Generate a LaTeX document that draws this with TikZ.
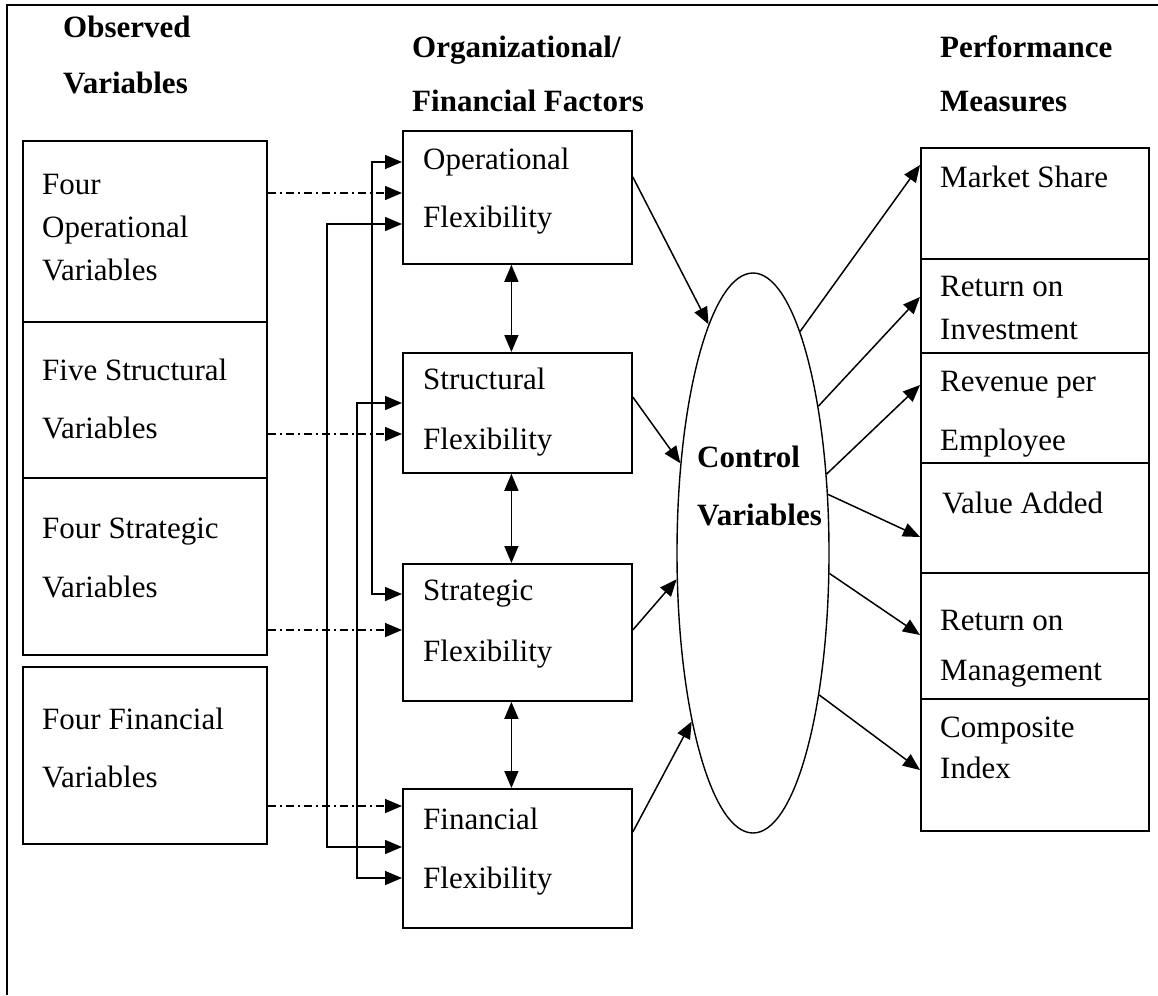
\documentclass[tikz,border=0pt]{standalone}
\usepackage{fontspec}
\setmainfont{Liberation Serif}
\usetikzlibrary{arrows.meta,shapes.geometric}
\tikzset{
  box/.style={draw, line width=1.8pt, inner sep=0pt, anchor=north west},
  lbl/.style={anchor=base west, inner sep=0pt, font=\fontsize{31}{31}\selectfont},
  hdr/.style={anchor=base west, inner sep=0pt, font=\fontsize{31}{31}\selectfont\bfseries},
  conn/.style={line width=1.5pt, -{Triangle[length=17pt,width=14pt]}},
  dbl/.style={line width=1.5pt, {Triangle[length=17pt,width=14pt]}-{Triangle[length=17pt,width=14pt]}},
  dd/.style={conn, dash pattern=on 8pt off 4pt on 2pt off 4pt},
}
\begin{document}
\begin{tikzpicture}[x=1pt,y=-1pt]
\useasboundingbox (0,0) rectangle (1158,995);
% frame
\draw[line width=1.8pt] (7,995) -- (7,5) -- (1158,5);

% headings
\node[hdr] (h1a) at (63,38) {Observed};
\node[hdr] (h1b) at (63,94) {Variables};
\node[hdr] (h2a) at (412,58) {Organizational/};
\node[hdr] (h2b) at (412,112) {Financial Factors};
\node[hdr] (h3a) at (940,58) {Performance};
\node[hdr] (h3b) at (940,112) {Measures};

% left boxes
\node[box, minimum width=244pt, minimum height=181pt] (ov) at (22,140) {};
\node[box, minimum width=244pt, minimum height=156pt] (sv) at (22,321) {};
\node[box, minimum width=244pt, minimum height=177pt] (gv) at (22,477) {};
\node[box, minimum width=244pt, minimum height=177pt] (fv) at (22,666) {};
\node[lbl] (ov1) at (42,194) {Four};
\node[lbl] (ov2) at (42,237) {Operational};
\node[lbl] (ov3) at (42,280) {Variables};
\node[lbl] (sv1) at (42,380) {Five Structural};
\node[lbl] (sv2) at (42,438) {Variables};
\node[lbl] (gv1) at (42,538) {Four Strategic};
\node[lbl] (gv2) at (42,597) {Variables};
\node[lbl] (fv1) at (42,729) {Four Financial};
\node[lbl] (fv2) at (42,787) {Variables};

% middle boxes
\node[box, minimum width=229pt, minimum height=133pt] (op) at (402,130) {};
\node[box, minimum width=229pt, minimum height=120pt] (st) at (402,352) {};
\node[box, minimum width=229pt, minimum height=137pt] (sg) at (402,563) {};
\node[box, minimum width=229pt, minimum height=139pt] (fi) at (402,788) {};
\node[lbl] (op1) at (423,170) {Operational};
\node[lbl] (op2) at (423,227) {Flexibility};
\node[lbl] (st1) at (423,389) {Structural};
\node[lbl] (st2) at (423,449) {Flexibility};
\node[lbl] (sg1) at (423,600) {Strategic};
\node[lbl] (sg2) at (423,661) {Flexibility};
\node[lbl] (fi1) at (423,829) {Financial};
\node[lbl] (fi2) at (423,888) {Flexibility};

% ellipse
\node[draw, ellipse, line width=1.4pt, inner sep=0pt, minimum width=152pt, minimum height=560pt] (cv) at (753,553) {};
\node[hdr] (cv1) at (697,467) {Control};
\node[hdr] (cv2) at (697,525) {Variables};

% right boxes
\node[box, minimum width=228pt, minimum height=111pt] (ms) at (920,147) {};
\node[box, minimum width=228pt, minimum height=94pt] (roi) at (920,258) {};
\node[box, minimum width=228pt, minimum height=110pt] (rpe) at (920,352) {};
\node[box, minimum width=228pt, minimum height=110pt] (va) at (920,462) {};
\node[box, minimum width=228pt, minimum height=126pt] (rom) at (920,572) {};
\node[box, minimum width=228pt, minimum height=132pt] (ci) at (920,698) {};
\node[lbl] (ms1) at (940,187) {Market Share};
\node[lbl] (roi1) at (940,296) {Return on};
\node[lbl] (roi2) at (940,339) {Investment};
\node[lbl] (rpe1) at (940,391) {Revenue per};
\node[lbl] (rpe2) at (940,450) {Employee};
\node[lbl] (va1) at (942,513) {Value Added};
\node[lbl] (rom1) at (940,630) {Return on};
\node[lbl] (rom2) at (940,680) {Management};
\node[lbl] (ci1) at (940,737) {Composite};
\node[lbl] (ci2) at (940,778) {Index};

% dash-dot connectors
\draw[dd] ([yshift=-53pt]ov.north east) -- ([yshift=-63pt]op.north west);
\draw[dd] ([yshift=-113pt]sv.north east) -- ([yshift=-82pt]st.north west);
\draw[dd] ([yshift=-153pt]gv.north east) -- ([yshift=-67pt]sg.north west);
\draw[dd] ([yshift=-140pt]fv.north east) -- ([yshift=-18pt]fi.north west);

% elbow connectors
\draw[dbl] ([yshift=-32pt]op.north west) -- ++(-30pt,0) |- ([yshift=-31pt]sg.north west);
\draw[dbl] ([yshift=-94pt]op.north west) -- ++(-75pt,0) |- ([yshift=-59pt]fi.north west);
\draw[dbl] ([yshift=-51pt]st.north west) -- ++(-45pt,0) |- ([yshift=-90pt]fi.north west);

% vertical double arrows
\draw[dbl] ([xshift=-6pt]op.south) -- ([xshift=-6pt]st.north);
\draw[dbl] ([xshift=-6pt]st.south) -- ([xshift=-6pt]sg.north);
\draw[dbl] ([xshift=-6pt]sg.south) -- ([xshift=-6pt]fi.north);

% factors to control variables
\draw[conn] ([yshift=-47pt]op.north east) -- (cv.101.7);
\draw[conn] ([yshift=-45pt]st.north east) -- (cv.129.3);
\draw[conn] ([yshift=-67pt]sg.north east) -- (cv.199.3);
\draw[conn] ([yshift=-44pt]fi.north east) -- (cv.250.8);

% control variables to measures
\draw[conn] (cv.78) -- ([yshift=-18pt]ms.north west);
\draw[conn] (cv.66.6) -- ([yshift=-39pt]roi.north west);
\draw[conn] (cv.47.9) -- ([yshift=-33pt]rpe.north west);
\draw[conn] (cv.38.7) -- ([yshift=-75pt]va.north west);
\draw[conn] (cv.-15.4) -- ([yshift=-63pt]rom.north west);
\draw[conn] (cv.-65.9) -- ([yshift=-72pt]ci.north west);
\end{tikzpicture}
\end{document}
